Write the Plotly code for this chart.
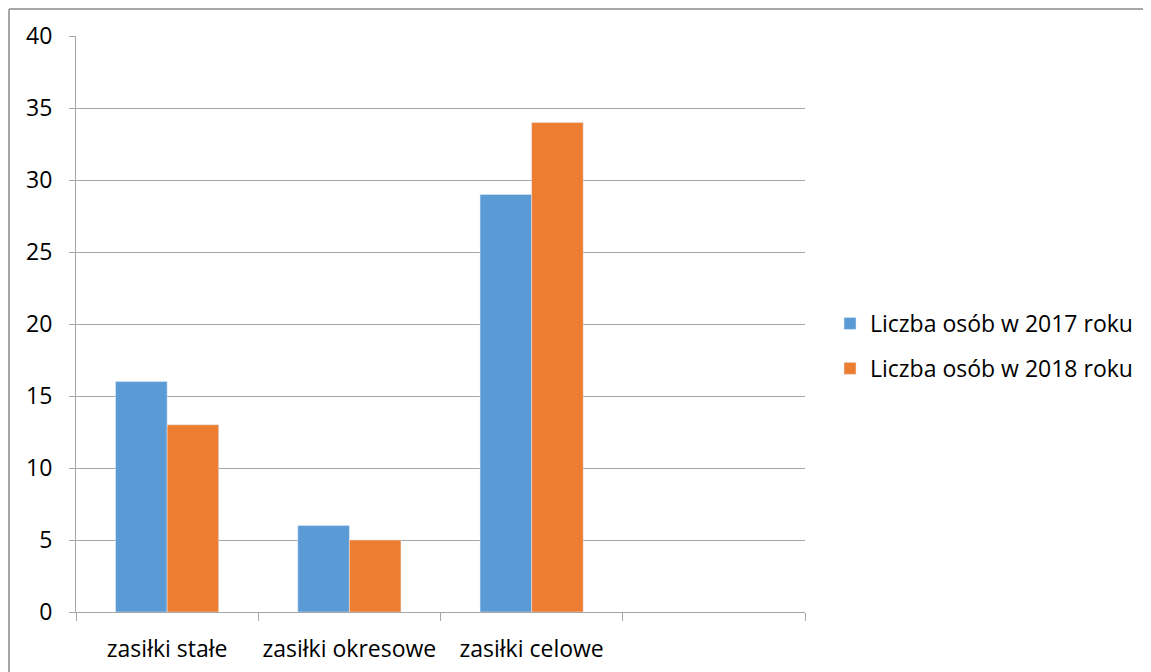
import plotly.graph_objects as go

categories = ["zasiłki stałe", "zasiłki okresowe", "zasiłki celowe", " "]
series_2017 = [16, 6, 29, None]
series_2018 = [13, 5, 34, None]
name_2017 = "Liczba osób w 2017 roku"
name_2018 = "Liczba osób w 2018 roku"
y_ticks = [0, 5, 10, 15, 20, 25, 30, 35, 40]

OFF = 8  # page body margin
W, H = 1151 - OFF, 672 - OFF
# plot area in screen pixels
SL, SR, ST, SB = 76, 805, 36, 612
L, R, T, B = SL - OFF, SR - OFF, ST - OFF, SB - OFF

fig = go.Figure()
fig.add_trace(go.Bar(x=categories, y=series_2017, name=name_2017, marker_color="#5B9BD5",
                     legendgroup="a"))
fig.add_trace(go.Bar(x=categories, y=series_2018, name=name_2018, marker_color="#ED7D31",
                     legendgroup="b"))

font_family = "Open Sans, Noto Sans, sans-serif"


def px_x(p):
    return (p - SL) / (SR - SL)


def px_y(p):
    return (SB - p) / (SB - ST)


fig.update_layout(
    width=W, height=H,
    margin=dict(l=L, r=W - R, t=T, b=H - B, autoexpand=False),
    paper_bgcolor="white", plot_bgcolor="white",
    barmode="group", bargap=0.434, bargroupgap=0,
    font=dict(family=font_family, size=23, color="#000000"),
    showlegend=True,
    legend=dict(x=px_x(830), y=px_y(346), xanchor="left", yanchor="middle",
                font=dict(size=23, color="#000000"), traceorder="grouped",
                tracegroupgap=12, bgcolor="rgba(0,0,0,0)"),
    shapes=[
        dict(type="line", xref="paper", yref="paper", x0=px_x(9), x1=px_x(9), y0=px_y(9), y1=px_y(700),
             line=dict(color="#A6A6A6", width=2)),
        dict(type="line", xref="paper", yref="paper", x0=px_x(9), x1=px_x(1160), y0=px_y(9), y1=px_y(9),
             line=dict(color="#A6A6A6", width=2)),
    ],
)

fig.update_xaxes(
    type="category", categoryorder="array", categoryarray=categories,
    showline=True, linecolor="#A6A6A6", linewidth=1,
    ticks="outside", tickson="boundaries", ticklen=8, tickcolor="#A6A6A6",
    showgrid=False, tickfont=dict(size=23, color="#000000"), ticklabelstandoff=16,
    tickangle=0, automargin=False,
)
fig.update_yaxes(
    range=[0, 40], tickvals=y_ticks, showline=True, linecolor="#A6A6A6", linewidth=1,
    ticks="outside", ticklen=6, tickcolor="#A6A6A6",
    showgrid=True, gridcolor="#A6A6A6", gridwidth=1, zeroline=False,
    tickfont=dict(size=23, color="#000000"), ticklabelstandoff=12, automargin=False,
)

fig.write_html("out.html")
